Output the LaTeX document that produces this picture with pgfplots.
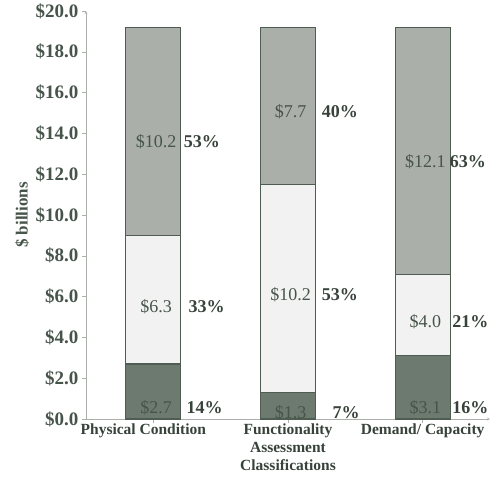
\documentclass[border=0pt]{standalone}
\usepackage{pgfplots}
\pgfplotsset{compat=1.18}
\usepackage{fontspec}
\setmainfont{Liberation Serif}
\definecolor{topc}{RGB}{170,175,170}
\definecolor{midc}{RGB}{241,242,241}
\definecolor{botc}{RGB}{108,122,112}
\definecolor{edgec}{RGB}{78,92,82}
\definecolor{txtc}{RGB}{70,84,74}
\definecolor{pctc}{RGB}{55,66,58}
\definecolor{axc}{RGB}{170,175,170}
\newcommand{\bigf}{\fontsize{18}{18}\selectfont}
\newcommand{\midf}{\fontsize{15.5}{18}\selectfont}
\tikzset{vlab/.style={font=\bigf, text=txtc},
         plab/.style={font=\bigf\bfseries, text=pctc, anchor=west, inner sep=0pt}}
\begin{document}
\begin{tikzpicture}
\begin{axis}[
  name=ax,
  scale only axis,
  width=404pt, height=408pt,
  xmin=-0.5, xmax=2.5,
  ymin=0, ymax=20,
  ybar stacked,
  bar width=55pt,
  axis lines=left,
  axis line style={draw=axc, thin},
  clip=false,
  xtick={0,1,2},
  xticklabels={{Physical Condition\hspace*{20pt}}, {Functionality\\Assessment\\Classifications}, Demand/ Capacity},
  x tick label style={font=\midf\bfseries, text=pctc, align=center, yshift=3pt},
  ytick={0,2,4,6,8,10,12,14,16,18,20},
  yticklabels={\$0.0,\$2.0,\$4.0,\$6.0,\$8.0,\$10.0,\$12.0,\$14.0,\$16.0,\$18.0,\$20.0},
  y tick label style={font=\fontsize{19}{19}\selectfont\bfseries, text=txtc},
  tick style={draw=axc, thin},
  tick align=outside,
  major tick length=4pt,
  ylabel={\$ billions},
  ylabel style={font=\fontsize{17}{17}\selectfont\bfseries, text=txtc},
]
\addplot[draw=edgec, line width=1.3pt, fill=botc] coordinates {(0,2.7) (1,1.3) (2,3.1)};
\addplot[draw=edgec, line width=1.3pt, fill=midc] coordinates {(0,6.3) (1,10.2) (2,4.0)};
\addplot[draw=edgec, line width=1.3pt, fill=topc] coordinates {(0,10.2) (1,7.7) (2,12.1)};
\coordinate (a1) at (axis cs:0.02,13.6);
\coordinate (a2) at (axis cs:0.02,5.5);
\coordinate (a3) at (axis cs:0.02,0.55);
\coordinate (b1) at (axis cs:1.02,15.05);
\coordinate (b2) at (axis cs:1.02,6.1);
\coordinate (b3) at (axis cs:1.02,0.3);
\coordinate (c1) at (axis cs:2.02,12.6);
\coordinate (c2) at (axis cs:2.02,4.75);
\coordinate (c3) at (axis cs:2.02,0.55);
\coordinate (pa1) at (axis cs:0.225,13.6);
\coordinate (pa2) at (axis cs:0.26,5.5);
\coordinate (pa3) at (axis cs:0.245,0.55);
\coordinate (pb1) at (axis cs:1.25,15.05);
\coordinate (pb2) at (axis cs:1.25,6.1);
\coordinate (pb3) at (axis cs:1.33,0.3);
\coordinate (pc1) at (axis cs:2.2,12.6);
\coordinate (pc2) at (axis cs:2.22,4.75);
\coordinate (pc3) at (axis cs:2.22,0.55);
\end{axis}
\node[vlab] at (a1) {\$10.2};
\node[vlab] at (a2) {\$6.3};
\node[vlab] at (a3) {\$2.7};
\node[vlab] at (b1) {\$7.7};
\node[vlab] at (b2) {\$10.2};
\node[vlab] at (b3) {\$1.3};
\node[vlab] at (c1) {\$12.1};
\node[vlab] at (c2) {\$4.0};
\node[vlab] at (c3) {\$3.1};
\node[plab] at (pa1) {53\%};
\node[plab] at (pa2) {33\%};
\node[plab] at (pa3) {14\%};
\node[plab] at (pb1) {40\%};
\node[plab] at (pb2) {53\%};
\node[plab] at (pb3) {7\%};
\node[plab] at (pc1) {63\%};
\node[plab] at (pc2) {21\%};
\node[plab] at (pc3) {16\%};
\pgfresetboundingbox
\path[use as bounding box] ([xshift=-86pt,yshift=-61pt]ax.south west) rectangle ([yshift=11pt]ax.north east);
\end{tikzpicture}
\end{document}
